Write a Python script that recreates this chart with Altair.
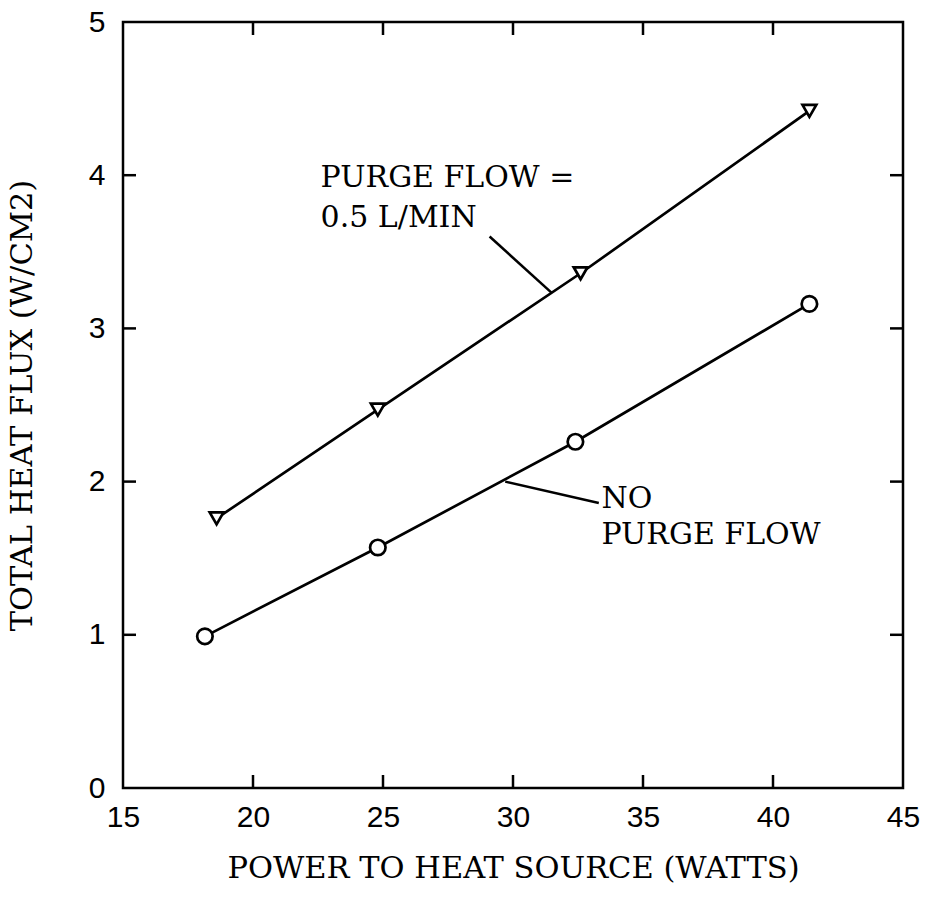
import altair as alt
import pandas as pd

# Data
purge_x = [18.6, 24.8, 32.6, 41.4]
purge_y = [1.76, 2.47, 3.36, 4.42]
nopurge_x = [18.15, 24.8, 32.4, 41.4]
nopurge_y = [0.99, 1.57, 2.26, 3.16]

x_ticks = [15, 20, 25, 30, 35, 40, 45]
y_ticks = [0, 1, 2, 3, 4, 5]
x_inner = [20, 25, 30, 35, 40]
y_inner = [1, 2, 3, 4]

ann_text = ["PURGE FLOW =", "0.5 L/MIN", "NO", "PURGE FLOW"]
ann_x = [22.6, 22.6, 33.4, 33.4]
ann_y = [3.92, 3.66, 1.83, 1.59]

lead_x = [29.1, 29.7]
lead_y = [3.60, 2.00]
lead_x2 = [31.5, 33.3]
lead_y2 = [3.23, 1.86]

W, H = 780, 766
TITLE_FONT = "DejaVu Serif"
LABEL_FONT = "Liberation Sans"

xs = alt.Scale(domain=[15, 45], nice=False, zero=False)
ys = alt.Scale(domain=[0, 5], nice=False)

series = pd.DataFrame({
    "x": purge_x + nopurge_x,
    "y": purge_y + nopurge_y,
    "s": ["purge"] * 4 + ["none"] * 4,
})

xaxis = alt.Axis(values=x_ticks, format="d", ticks=False, domain=False, grid=False,
                 labelFont=LABEL_FONT, labelFontSize=30, labelPadding=14, labelColor="black",
                 labelFlush=False, labelOverlap=False,
                 title="POWER TO HEAT SOURCE (WATTS)", titleFont=TITLE_FONT, titleFontSize=30.5,
                 titleFontWeight="normal", titleColor="black", titleY=80, titleBaseline="middle")
yaxis = alt.Axis(values=y_ticks, format="d", ticks=False, domain=False, grid=False,
                 labelFont=LABEL_FONT, labelFontSize=30, labelPadding=18, labelColor="black",
                 labelFlush=False, labelOverlap=False,
                 title="TOTAL HEAT FLUX (W/CM2)", titleFont=TITLE_FONT, titleFontSize=30.5,
                 titleFontWeight="normal", titleColor="black", titleX=-101, titleY=H / 2,
                 titleBaseline="middle", titleAngle=270)

base = alt.Chart(series)

lines = base.mark_line(color="black", strokeWidth=2.7).encode(
    x=alt.X("x:Q", scale=xs, axis=xaxis),
    y=alt.Y("y:Q", scale=ys, axis=yaxis),
    detail="s:N",
)

tri = alt.Chart(series[series.s == "purge"]).mark_point(
    shape="triangle-down", size=190, filled=True, fill="white", stroke="black", strokeWidth=2.7, opacity=1
).encode(x=alt.X("x:Q", scale=xs), y=alt.Y("y:Q", scale=ys))

circ = alt.Chart(series[series.s == "none"]).mark_point(
    shape="circle", size=240, filled=True, fill="white", stroke="black", strokeWidth=2.7, opacity=1
).encode(x=alt.X("x:Q", scale=xs), y=alt.Y("y:Q", scale=ys))

xt = pd.DataFrame({"v": x_inner})
yt = pd.DataFrame({"v": y_inner})
tick_top = alt.Chart(xt).mark_rule(color="black", strokeWidth=2.5).encode(
    x=alt.X("v:Q", scale=xs), y=alt.value(0), y2=alt.value(13))
tick_bot = alt.Chart(xt).mark_rule(color="black", strokeWidth=2.5).encode(
    x=alt.X("v:Q", scale=xs), y=alt.value(H), y2=alt.value(H - 13))
tick_left = alt.Chart(yt).mark_rule(color="black", strokeWidth=2.5).encode(
    y=alt.Y("v:Q", scale=ys), x=alt.value(0), x2=alt.value(13))
tick_right = alt.Chart(yt).mark_rule(color="black", strokeWidth=2.5).encode(
    y=alt.Y("v:Q", scale=ys), x=alt.value(W), x2=alt.value(W - 13))

ann = pd.DataFrame({"t": ann_text, "x": ann_x, "y": ann_y})
texts = alt.Chart(ann).mark_text(
    align="left", baseline="alphabetic", font=TITLE_FONT, fontSize=30, color="black"
).encode(x=alt.X("x:Q", scale=xs), y=alt.Y("y:Q", scale=ys), text="t:N")

lead = pd.DataFrame({"x": lead_x, "y": lead_y, "x2": lead_x2, "y2": lead_y2})
leaders = alt.Chart(lead).mark_rule(color="black", strokeWidth=2.5).encode(
    x=alt.X("x:Q", scale=xs), y=alt.Y("y:Q", scale=ys), x2="x2:Q", y2="y2:Q")

chart = alt.layer(
    lines, leaders, tri, circ, tick_top, tick_bot, tick_left, tick_right, texts
).properties(
    width=W, height=H,
    autosize=alt.AutoSizeParams(type="none"),
    padding={"left": 123, "top": 22, "right": 23, "bottom": 111},
    background="white",
).configure_view(stroke="black", strokeWidth=2.5)

chart.save("out.html", embed_options={"renderer": "svg", "actions": False})
